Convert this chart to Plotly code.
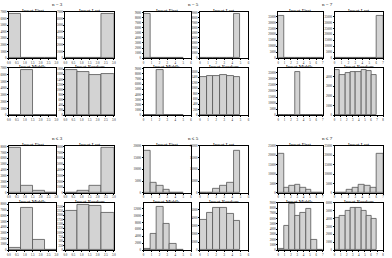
import numpy as np
import plotly.graph_objects as go

GROUP_TITLES = ["n = 3", "n = 5", "n = 7", "n ≤ 3", "n ≤ 5", "n ≤ 7"]
PANEL_TITLES = ["Insert First", "Insert Last", "Insert Middle", "Insert Random"]
GROUP_N = [3, 5, 7, 3, 5, 7]

# counts per bin (bins span [0, n] divided into n+1 bins)
N3_FIRST = [6650, 0, 0, 0]
N3_LAST = [0, 0, 0, 6650]
N3_MIDDLE = [0, 6650, 0, 0]
N3_RANDOM = [1760, 1690, 1590, 1630]

N5_FIRST = [8700, 0, 0, 0, 0, 0]
N5_LAST = [0, 0, 0, 0, 0, 8700]
N5_MIDDLE = [0, 0, 8700, 0, 0, 0]
N5_RANDOM = [1435, 1452, 1452, 1505, 1452, 1435]

N7_FIRST = [35800, 0, 0, 0, 0, 0, 0, 0]
N7_LAST = [0, 0, 0, 0, 0, 0, 0, 35800]
N7_MIDDLE = [0, 0, 0, 35800, 0, 0, 0, 0]
N7_RANDOM = [4757, 4176, 4383, 4482, 4482, 4688, 4580, 4245]

LE3_FIRST = [7900, 1270, 410, 0]
LE3_LAST = [0, 410, 1270, 7900]
LE3_MIDDLE = [413, 7434, 1735, 0]
LE3_RANDOM = [2262, 2632, 2534, 2153]

LE5_FIRST = [17700, 4350, 3000, 1500, 280, 0]
LE5_LAST = [0, 300, 1600, 3100, 4400, 17700]
LE5_MIDDLE = [466, 4658, 12467, 7535, 1850, 0]
LE5_RANDOM = [3744, 4563, 5265, 5265, 4505, 3569]

LE7_FIRST = [21000, 3000, 3870, 4400, 3000, 1580, 350, 0]
LE7_LAST = [0, 350, 1600, 3000, 4400, 3900, 3000, 21000]
LE7_MIDDLE = [300, 4700, 8800, 6500, 7100, 7900, 1900, 0]
LE7_RANDOM = [4080, 4320, 4980, 5400, 5400, 4980, 4320, 3930]

GROUP_DATA = [
    [N3_FIRST, N3_LAST, N3_MIDDLE, N3_RANDOM],
    [N5_FIRST, N5_LAST, N5_MIDDLE, N5_RANDOM],
    [N7_FIRST, N7_LAST, N7_MIDDLE, N7_RANDOM],
    [LE3_FIRST, LE3_LAST, LE3_MIDDLE, LE3_RANDOM],
    [LE5_FIRST, LE5_LAST, LE5_MIDDLE, LE5_RANDOM],
    [LE7_FIRST, LE7_LAST, LE7_MIDDLE, LE7_RANDOM],
]

# axis layout settings
XMAX = [[3, 3, 3, 3], [6, 6, 6, 6], [7, 7, 7, 8],
        [3, 3, 3, 3], [6, 6, 6, 6], [7, 7, 7, 8]]
YMAX = [[7000, 7000, 7000, 1850], [9150, 9150, 9150, 1750], [39000, 39000, 39000, 4925],
        [8200, 8200, 8260, 2725], [20000, 20000, 13700, 5850], [25000, 25000, 9000, 6000]]
YDTICK = [[1000, 1000, 1000, 200], [1000, 1000, 1000, 200], [5000, 5000, 5000, 1000],
          [1000, 1000, 1000, 250], [5000, 5000, 2000, 1000], [5000, 5000, 1000, 1000]]

W, H = 392, 258
COLS = [(7, 55), (64, 113), (143, 191), (200, 249), (279, 324), (336, 385)]
ROWS = [(10, 57), (67, 115), (146, 194), (204, 252)]
TITLE_POS = [(56, 3), (193, 3), (329, 3), (56, 139), (193, 139), (329, 139)]

FONT = "Liberation Serif"

fig = go.Figure()
annotations = []
layout_axes = {}

k = 0
for g in range(6):
    n = GROUP_N[g]
    gc, gr = g % 3, g // 3
    edges = np.linspace(0, n, n + 2)
    centers = (edges[:-1] + edges[1:]) / 2
    width = edges[1] - edges[0]
    for p in range(4):
        k += 1
        pc, pr = p % 2, p // 2
        x0, x1 = COLS[gc * 2 + pc]
        y0, y1 = ROWS[gr * 2 + pr]
        xs = "x" if k == 1 else f"x{k}"
        ys = "y" if k == 1 else f"y{k}"
        fig.add_trace(go.Bar(
            x=centers, y=GROUP_DATA[g][p], width=width,
            marker=dict(color="#d3d3d3", line=dict(color="#555555", width=0.8)),
            xaxis=xs, yaxis=ys, showlegend=False, hoverinfo="skip"))
        if n == 3:
            xt = dict(dtick=0.5, tick0=0, tickformat=".1f")
        else:
            xt = dict(dtick=1, tick0=0, tickformat="d")
        common = dict(showline=True, mirror=True, linecolor="black", linewidth=0.7,
                      ticks="outside", ticklen=1, tickwidth=0.5, tickcolor="black",
                      showgrid=False, zeroline=False,
                      tickfont=dict(family=FONT, size=3, color="#222"))
        layout_axes["xaxis" if k == 1 else f"xaxis{k}"] = dict(
            domain=[x0 / W, x1 / W], anchor=ys, range=[0, XMAX[g][p]], **xt, **common)
        layout_axes["yaxis" if k == 1 else f"yaxis{k}"] = dict(
            domain=[1 - y1 / H, 1 - y0 / H], anchor=xs, range=[0, YMAX[g][p]],
            dtick=YDTICK[g][p], tick0=0, tickformat="d", **common)
        annotations.append(dict(
            text=PANEL_TITLES[p], x=(x0 + x1) / 2 / W, y=1 - (y0 + 1.8) / H,
            xref="paper", yref="paper", xanchor="center", yanchor="bottom",
            borderpad=0, showarrow=False,
            font=dict(family=FONT, size=5, color="black")))
    tx, ty = TITLE_POS[g]
    annotations.append(dict(
        text=GROUP_TITLES[g], x=tx / W, y=1 - ty / H, xref="paper", yref="paper",
        xanchor="center", yanchor="middle", showarrow=False, borderpad=0,
        font=dict(family=FONT, size=5, color="black")))

fig.update_layout(
    width=W, height=H, margin=dict(l=0, r=0, t=0, b=0),
    paper_bgcolor="white", plot_bgcolor="white",
    bargap=0, annotations=annotations, **layout_axes)

fig.write_html("out.html")
